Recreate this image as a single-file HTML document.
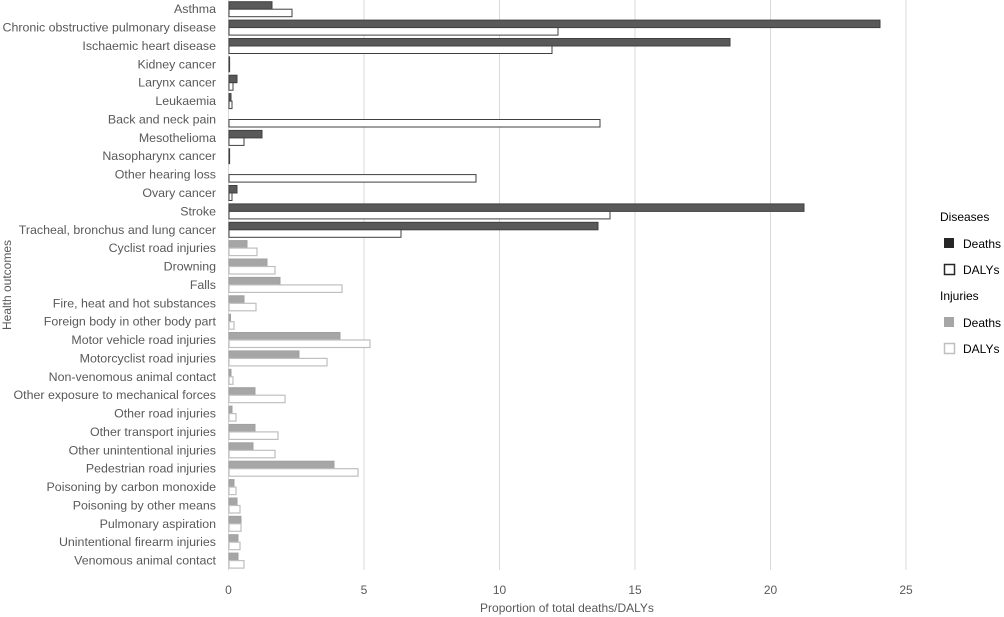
<!DOCTYPE html>
<html><head><meta charset="utf-8"><style>
body{margin:0;background:#fff}
svg{display:block;font-family:"Liberation Sans",sans-serif}
.l{font-size:12.4px;fill:#595959;text-anchor:end}
.dd{fill:#595959;stroke:#404040;stroke-width:1}
.dy{fill:#fff;stroke:#404040;stroke-width:1}
.id{fill:#a6a6a6;stroke:#a0a0a0;stroke-width:1}
.iy{fill:#fff;stroke:#bfbfbf;stroke-width:1.2}
</style></head><body>
<svg width="1004" height="617" viewBox="0 0 1004 617">
<g stroke="#d9d9d9" stroke-width="1">
<line x1="364" y1="0" x2="364" y2="570"/><line x1="499.5" y1="0" x2="499.5" y2="570"/><line x1="635" y1="0" x2="635" y2="570"/><line x1="770.5" y1="0" x2="770.5" y2="570"/><line x1="906" y1="0" x2="906" y2="570"/>
<line x1="228.5" y1="0" x2="228.5" y2="570"/>
</g>
<g class="l">
<text x="216" y="13.2">Asthma</text>
<text x="216" y="31.6">Chronic obstructive pulmonary disease</text>
<text x="216" y="50">Ischaemic heart disease</text>
<text x="216" y="68.3">Kidney cancer</text>
<text x="216" y="86.7">Larynx cancer</text>
<text x="216" y="105.1">Leukaemia</text>
<text x="216" y="123.5">Back and neck pain</text>
<text x="216" y="141.9">Mesothelioma</text>
<text x="216" y="160.2">Nasopharynx cancer</text>
<text x="216" y="178.6">Other hearing loss</text>
<text x="216" y="197">Ovary cancer</text>
<text x="216" y="215.4">Stroke</text>
<text x="216" y="233.8">Tracheal, bronchus and lung cancer</text>
<text x="216" y="252.1">Cyclist road injuries</text>
<text x="216" y="270.5">Drowning</text>
<text x="216" y="288.9">Falls</text>
<text x="216" y="307.3">Fire, heat and hot substances</text>
<text x="216" y="325.7">Foreign body in other body part</text>
<text x="216" y="344">Motor vehicle road injuries</text>
<text x="216" y="362.4">Motorcyclist road injuries</text>
<text x="216" y="380.8">Non-venomous animal contact</text>
<text x="216" y="399.2">Other exposure to mechanical forces</text>
<text x="216" y="417.6">Other road injuries</text>
<text x="216" y="435.9">Other transport injuries</text>
<text x="216" y="454.3">Other unintentional injuries</text>
<text x="216" y="472.7">Pedestrian road injuries</text>
<text x="216" y="491.1">Poisoning by carbon monoxide</text>
<text x="216" y="509.5">Poisoning by other means</text>
<text x="216" y="527.8">Pulmonary aspiration</text>
<text x="216" y="546.2">Unintentional firearm injuries</text>
<text x="216" y="564.6">Venomous animal contact</text>
</g>
<g transform="translate(229,0)">
<g transform="translate(0,9.2)"><rect class="dd" y="-7.5" width="43" height="7.5"/><rect class="dy" y="0" width="63" height="7.5"/></g>
<g transform="translate(0,27.6)"><rect class="dd" y="-7.5" width="651" height="7.5"/><rect class="dy" y="0" width="329" height="7.5"/></g>
<g transform="translate(0,46)"><rect class="dd" y="-7.5" width="501" height="7.5"/><rect class="dy" y="0" width="323" height="7.5"/></g>
<g transform="translate(0,64.3)"><rect class="dd" y="-7.5" width="0.6" height="7.5"/><rect class="dy" y="0" width="0.6" height="7.5"/></g>
<g transform="translate(0,82.7)"><rect class="dd" y="-7.5" width="8" height="7.5"/><rect class="dy" y="0" width="4" height="7.5"/></g>
<g transform="translate(0,101.1)"><rect class="dd" y="-7.5" width="2" height="7.5"/><rect class="dy" y="0" width="3" height="7.5"/></g>
<g transform="translate(0,119.5)"><rect class="dy" y="0" width="371" height="7.5"/></g>
<g transform="translate(0,137.9)"><rect class="dd" y="-7.5" width="33" height="7.5"/><rect class="dy" y="0" width="15" height="7.5"/></g>
<g transform="translate(0,156.2)"><rect class="dd" y="-7.5" width="0.6" height="7.5"/><rect class="dy" y="0" width="0.6" height="7.5"/></g>
<g transform="translate(0,174.6)"><rect class="dy" y="0" width="247" height="7.5"/></g>
<g transform="translate(0,193)"><rect class="dd" y="-7.5" width="8" height="7.5"/><rect class="dy" y="0" width="3" height="7.5"/></g>
<g transform="translate(0,211.4)"><rect class="dd" y="-7.5" width="575" height="7.5"/><rect class="dy" y="0" width="381" height="7.5"/></g>
<g transform="translate(0,229.8)"><rect class="dd" y="-7.5" width="369" height="7.5"/><rect class="dy" y="0" width="172" height="7.5"/></g>
<g transform="translate(0,248.1)"><rect class="id" y="-7.5" width="18" height="7.5"/><rect class="iy" y="0" width="28" height="7.5"/></g>
<g transform="translate(0,266.5)"><rect class="id" y="-7.5" width="38" height="7.5"/><rect class="iy" y="0" width="46" height="7.5"/></g>
<g transform="translate(0,284.9)"><rect class="id" y="-7.5" width="51" height="7.5"/><rect class="iy" y="0" width="113" height="7.5"/></g>
<g transform="translate(0,303.3)"><rect class="id" y="-7.5" width="15" height="7.5"/><rect class="iy" y="0" width="27" height="7.5"/></g>
<g transform="translate(0,321.7)"><rect class="id" y="-7.5" width="1.5" height="7.5"/><rect class="iy" y="0" width="5" height="7.5"/></g>
<g transform="translate(0,340)"><rect class="id" y="-7.5" width="111" height="7.5"/><rect class="iy" y="0" width="141" height="7.5"/></g>
<g transform="translate(0,358.4)"><rect class="id" y="-7.5" width="70" height="7.5"/><rect class="iy" y="0" width="98" height="7.5"/></g>
<g transform="translate(0,376.8)"><rect class="id" y="-7.5" width="2" height="7.5"/><rect class="iy" y="0" width="4" height="7.5"/></g>
<g transform="translate(0,395.2)"><rect class="id" y="-7.5" width="26" height="7.5"/><rect class="iy" y="0" width="56" height="7.5"/></g>
<g transform="translate(0,413.6)"><rect class="id" y="-7.5" width="3" height="7.5"/><rect class="iy" y="0" width="7" height="7.5"/></g>
<g transform="translate(0,431.9)"><rect class="id" y="-7.5" width="26" height="7.5"/><rect class="iy" y="0" width="49" height="7.5"/></g>
<g transform="translate(0,450.3)"><rect class="id" y="-7.5" width="24" height="7.5"/><rect class="iy" y="0" width="46" height="7.5"/></g>
<g transform="translate(0,468.7)"><rect class="id" y="-7.5" width="105" height="7.5"/><rect class="iy" y="0" width="129" height="7.5"/></g>
<g transform="translate(0,487.1)"><rect class="id" y="-7.5" width="5" height="7.5"/><rect class="iy" y="0" width="7" height="7.5"/></g>
<g transform="translate(0,505.5)"><rect class="id" y="-7.5" width="8" height="7.5"/><rect class="iy" y="0" width="11" height="7.5"/></g>
<g transform="translate(0,523.8)"><rect class="id" y="-7.5" width="12" height="7.5"/><rect class="iy" y="0" width="12" height="7.5"/></g>
<g transform="translate(0,542.2)"><rect class="id" y="-7.5" width="9" height="7.5"/><rect class="iy" y="0" width="11" height="7.5"/></g>
<g transform="translate(0,560.6)"><rect class="id" y="-7.5" width="9" height="7.5"/><rect class="iy" y="0" width="15" height="7.5"/></g>
</g>
<g font-size="12" fill="#595959" text-anchor="middle">
<text x="228.5" y="594">0</text><text x="364" y="594">5</text><text x="499.5" y="594">10</text><text x="635" y="594">15</text><text x="770.5" y="594">20</text><text x="906" y="594">25</text>
<text x="567" y="612">Proportion of total deaths/DALYs</text>
<text transform="translate(11,285) rotate(-90)">Health outcomes</text>
</g>
<g font-size="12" fill="#000">
<text x="940" y="221">Diseases</text>
<rect x="944" y="238" width="10" height="10" fill="#262626"/>
<text x="963" y="248">Deaths</text>
<rect x="944.5" y="264.5" width="10" height="10" fill="#fff" stroke="#262626" stroke-width="1.5"/>
<text x="963" y="274">DALYs</text>
<text x="940" y="300">Injuries</text>
<rect x="944" y="317" width="10" height="10" fill="#a6a6a6"/>
<text x="963" y="327">Deaths</text>
<rect x="944.5" y="343.5" width="10" height="10" fill="#fff" stroke="#bfbfbf" stroke-width="1.5"/>
<text x="963" y="353">DALYs</text>
</g>
</svg>
</body></html>
